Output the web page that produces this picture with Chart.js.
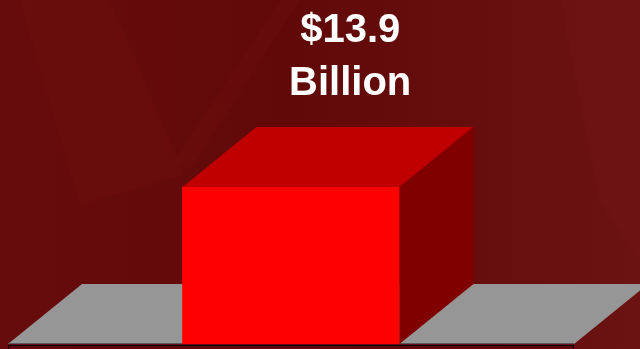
<!DOCTYPE html>
<html>
<head>
<meta charset="utf-8">
<script src="https://cdn.jsdelivr.net/npm/chart.js@4/dist/chart.umd.min.js"></script>
<style>
    html, body { margin: 0; padding: 0; background: #640a0a; }
    #wrap { width: 640px; height: 349px; position: relative; }
</style>
</head>
<body>
<div id="wrap"><canvas id="chart"></canvas></div>
<script>
const categories = ['Total'];
const values = [13.9];
const unitLabel = 'Billion';
const axisMin = 0;
const axisMax = 20;

// 3D look: depth of the box and floor
const depthX = 74;
const depthY = 60;

const backdrop = {
    id: 'backdrop',
    beforeDraw(chart) {
        const { ctx, width, height } = chart;
        ctx.save();
        const g = ctx.createLinearGradient(0, 0, width, 0);
        g.addColorStop(0, '#670c0c');
        g.addColorStop(0.45, '#610909');
        g.addColorStop(1, '#6b1313');
        ctx.fillStyle = g;
        ctx.fillRect(0, 0, width, height);

        // faint light streaks
        ctx.fillStyle = 'rgba(140, 30, 30, 0.11)';
        ctx.beginPath();
        ctx.moveTo(20, 0); ctx.lineTo(110, 0); ctx.lineTo(185, 175); ctx.lineTo(80, 205);
        ctx.closePath(); ctx.fill();
        ctx.beginPath();
        ctx.moveTo(280, 0); ctx.lineTo(300, 0); ctx.lineTo(190, 170); ctx.lineTo(175, 160);
        ctx.closePath(); ctx.fill();
        ctx.beginPath();
        ctx.moveTo(560, 0); ctx.lineTo(640, 0); ctx.lineTo(640, 260); ctx.lineTo(600, 200);
        ctx.closePath(); ctx.fill();
        ctx.restore();
    }
};

const floor3d = {
    id: 'floor3d',
    beforeDatasetsDraw(chart) {
        const { ctx, chartArea } = chart;
        const l = chartArea.left, r = chartArea.right, b = chartArea.bottom;
        ctx.save();
        // floor slab edge
        ctx.fillStyle = '#5e0808';
        ctx.fillRect(l, b + 1, r - l, 12);
        ctx.strokeStyle = '#000';
        ctx.lineWidth = 1;
        ctx.strokeRect(l + 0.5, b + 1.5, r - l - 1, 12);
        // floor top
        ctx.fillStyle = '#969696';
        ctx.beginPath();
        ctx.moveTo(l, b);
        ctx.lineTo(l + depthX, b - depthY);
        ctx.lineTo(r + depthX, b - depthY);
        ctx.lineTo(r, b);
        ctx.closePath();
        ctx.fill();
        ctx.strokeStyle = '#5a5a5a';
        ctx.beginPath();
        ctx.moveTo(l, b - 0.5);
        ctx.lineTo(r, b - 0.5);
        ctx.stroke();
        ctx.restore();
    },
    afterDatasetsDraw(chart) {
        const { ctx } = chart;
        const meta = chart.getDatasetMeta(0);
        ctx.save();
        meta.data.forEach(bar => {
            const half = bar.width / 2;
            const x0 = bar.x - half, x1 = bar.x + half;
            const top = bar.y, base = bar.base;
            // top face
            ctx.fillStyle = '#c00000';
            ctx.beginPath();
            ctx.moveTo(x0, top);
            ctx.lineTo(x0 + depthX, top - depthY);
            ctx.lineTo(x1 + depthX, top - depthY);
            ctx.lineTo(x1, top);
            ctx.closePath();
            ctx.fill();
            // side face
            ctx.fillStyle = '#800000';
            ctx.beginPath();
            ctx.moveTo(x1, top);
            ctx.lineTo(x1 + depthX, top - depthY);
            ctx.lineTo(x1 + depthX, base - depthY);
            ctx.lineTo(x1, base);
            ctx.closePath();
            ctx.fill();
        });
        ctx.restore();
    },
    afterDraw(chart) {
        const { ctx } = chart;
        const bar = chart.getDatasetMeta(0).data[0];
        const v = chart.data.datasets[0].data[0];
        const cx = bar.x + depthX * 0.8;
        ctx.save();
        ctx.fillStyle = '#ffffff';
        ctx.textAlign = 'center';
        ctx.textBaseline = 'alphabetic';
        ctx.font = 'bold 40px "Liberation Sans", Arial, sans-serif';
        ctx.fillText('$' + v.toFixed(1), cx, 42);
        ctx.fillText(unitLabel, cx, 95);
        ctx.restore();
    }
};

new Chart(document.getElementById('chart'), {
    type: 'bar',
    data: {
        labels: categories,
        datasets: [{
            data: values,
            backgroundColor: '#ff0000',
            borderWidth: 0,
            barThickness: 217
        }]
    },
    options: {
        responsive: true,
        maintainAspectRatio: false,
        animation: false,
        layout: { padding: { left: 8, right: 66, top: 118, bottom: 5 } },
        plugins: {
            legend: { display: false },
            tooltip: { enabled: false }
        },
        scales: {
            x: { display: false, grid: { display: false } },
            y: { display: false, min: axisMin, max: axisMax, grid: { display: false } }
        }
    },
    plugins: [backdrop, floor3d]
});
</script>
</body>
</html>
